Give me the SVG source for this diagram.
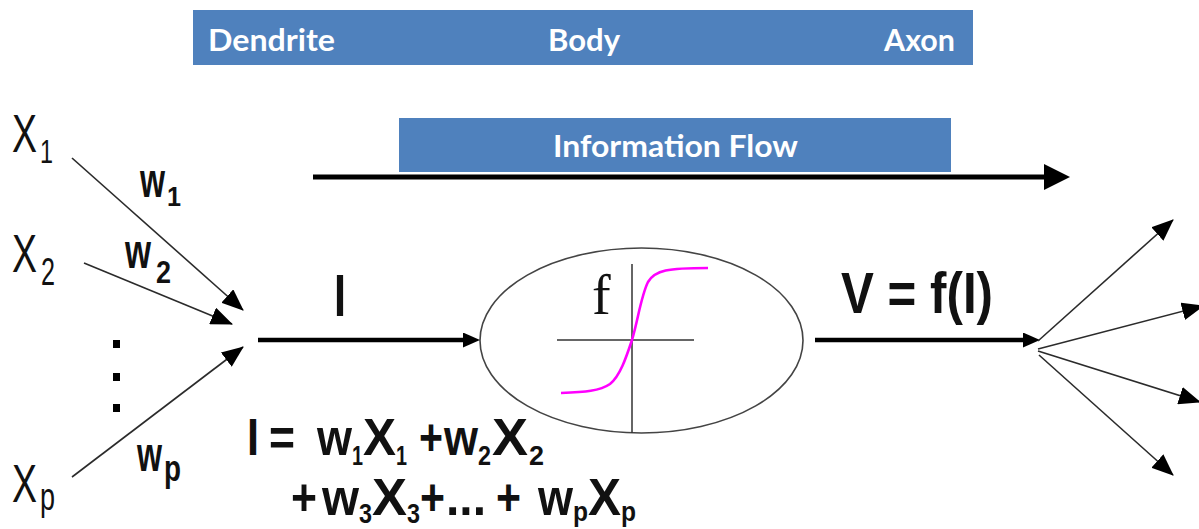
<svg xmlns="http://www.w3.org/2000/svg" width="1199" height="529" viewBox="0 0 1199 529">
  <style>
    .band { fill: #4F81BD; }
    .bt { font-family: Lato, "Open Sans", "Liberation Sans", sans-serif; font-weight: bold; font-size: 30px; fill: #FFFFFF; }
    .xr { font-family: "Liberation Sans", Arial, sans-serif; font-weight: normal; fill: #111111; }
    .bd { font-family: "Liberation Sans", Arial, sans-serif; font-weight: bold; fill: #111111; }
    .fm { font-size: 52px; }
    .fs { font-size: 27px; }
    .thin { stroke: #2b2b2b; stroke-width: 1.6; fill: none; }
    .thick { stroke: #000000; stroke-width: 4.5; fill: none; }
    .flow { stroke: #000000; stroke-width: 5; fill: none; }
  </style>
  <defs>
    <marker id="headThin" viewBox="0 0 22 18" refX="21" refY="9" markerWidth="22" markerHeight="18" markerUnits="userSpaceOnUse" orient="auto">
      <path d="M0,0 L22,9 L0,18 z" fill="#000000"/>
    </marker>
    <marker id="headMed" viewBox="0 0 17 15" refX="4" refY="7.5" markerWidth="17" markerHeight="15" markerUnits="userSpaceOnUse" orient="auto">
      <path d="M0,0 L17,7.5 L0,15 z" fill="#000000"/>
    </marker>
    <marker id="headBig" viewBox="0 0 26 26" refX="6" refY="13" markerWidth="26" markerHeight="26" markerUnits="userSpaceOnUse" orient="auto">
      <path d="M0,0 L26,13 L0,26 z" fill="#000000"/>
    </marker>
  </defs>

  <rect width="1199" height="529" fill="#FFFFFF"/>

  <!-- region band: dendrite / body / axon -->
  <g id="regions">
    <rect class="band" x="193" y="10" width="780" height="55"/>
    <text class="bt" x="208" y="51" textLength="127" lengthAdjust="spacingAndGlyphs">Dendrite</text>
    <text class="bt" x="548" y="51" textLength="72" lengthAdjust="spacingAndGlyphs">Body</text>
    <text class="bt" x="884" y="51" textLength="71" lengthAdjust="spacingAndGlyphs">Axon</text>
  </g>

  <!-- information flow banner -->
  <g id="info-flow">
    <rect class="band" x="399" y="118" width="552" height="54"/>
    <text class="bt" x="553" y="157" textLength="245" lengthAdjust="spacingAndGlyphs">Information Flow</text>
  </g>

  <!-- inputs -->
  <g id="input-x1">
    <text class="xr" x="12" y="152" font-size="53" textLength="25" lengthAdjust="spacingAndGlyphs">X</text>
    <text class="xr" x="40" y="163" font-size="33" textLength="13" lengthAdjust="spacingAndGlyphs">1</text>
  </g>
  <g id="input-x2">
    <text class="xr" x="12" y="272" font-size="53" textLength="25" lengthAdjust="spacingAndGlyphs">X</text>
    <text class="xr" x="41" y="285" font-size="38" textLength="14" lengthAdjust="spacingAndGlyphs">2</text>
  </g>
  <g id="input-xp">
    <text class="xr" x="12" y="502" font-size="53" textLength="25" lengthAdjust="spacingAndGlyphs">X</text>
    <text class="xr" x="40" y="510" font-size="38" textLength="15" lengthAdjust="spacingAndGlyphs">p</text>
  </g>
  <g id="ellipsis-dots" fill="#000000">
    <rect x="113" y="340" width="7" height="8"/>
    <rect x="113" y="373" width="7" height="8"/>
    <rect x="113" y="404" width="7" height="8"/>
  </g>

  <!-- weights -->
  <g id="weight-w1">
    <text class="bd" x="140" y="197" font-size="48" textLength="25" lengthAdjust="spacingAndGlyphs">w</text>
    <text class="bd" x="167" y="206" font-size="28" textLength="14" lengthAdjust="spacingAndGlyphs">1</text>
  </g>
  <g id="weight-w2">
    <text class="bd" x="125" y="268" font-size="48" textLength="26" lengthAdjust="spacingAndGlyphs">w</text>
    <text class="bd" x="156" y="283" font-size="32" textLength="15" lengthAdjust="spacingAndGlyphs">2</text>
  </g>
  <g id="weight-wp">
    <text class="bd" x="137" y="471" font-size="48" textLength="25" lengthAdjust="spacingAndGlyphs">w</text>
    <text class="bd" x="164" y="481" font-size="36" textLength="17" lengthAdjust="spacingAndGlyphs">p</text>
  </g>

  <!-- net input label -->
  <g id="net-input">
    <text class="bd" x="334" y="316" font-size="60" textLength="12" lengthAdjust="spacingAndGlyphs">I</text>
  </g>

  <!-- weighted sum: I = w1X1 + w2X2 + w3X3 + ... + wpXp -->
  <g id="formula" class="bd">
    <text class="fm" x="247" y="455" textLength="12" lengthAdjust="spacingAndGlyphs">I</text>
    <text class="fm" x="269" y="455" textLength="26" lengthAdjust="spacingAndGlyphs">=</text>
    <text class="fm" x="317" y="455" textLength="35" lengthAdjust="spacingAndGlyphs">w</text>
    <text class="fs" x="352" y="465" textLength="11" lengthAdjust="spacingAndGlyphs">1</text>
    <text class="fm" x="363" y="455" textLength="33" lengthAdjust="spacingAndGlyphs">X</text>
    <text class="fs" x="396" y="465" textLength="11" lengthAdjust="spacingAndGlyphs">1</text>
    <text class="fm" x="419" y="455" textLength="24" lengthAdjust="spacingAndGlyphs">+</text>
    <text class="fm" x="444" y="455" textLength="34" lengthAdjust="spacingAndGlyphs">w</text>
    <text class="fs" x="478" y="465" textLength="13" lengthAdjust="spacingAndGlyphs">2</text>
    <text class="fm" x="492" y="455" textLength="36" lengthAdjust="spacingAndGlyphs">X</text>
    <text class="fs" x="529" y="465" textLength="15" lengthAdjust="spacingAndGlyphs">2</text>

    <text class="fm" x="291" y="515" textLength="26" lengthAdjust="spacingAndGlyphs">+</text>
    <text class="fm" x="322" y="515" textLength="37" lengthAdjust="spacingAndGlyphs">w</text>
    <text class="fs" x="359" y="523" textLength="13" lengthAdjust="spacingAndGlyphs">3</text>
    <text class="fm" x="372" y="515" textLength="35" lengthAdjust="spacingAndGlyphs">X</text>
    <text class="fs" x="407" y="523" textLength="13" lengthAdjust="spacingAndGlyphs">3</text>
    <text class="fm" x="420" y="515" textLength="25" lengthAdjust="spacingAndGlyphs">+</text>
    <text class="fm" x="446" y="515" textLength="40" lengthAdjust="spacingAndGlyphs">...</text>
    <text class="fm" x="496" y="515" textLength="25" lengthAdjust="spacingAndGlyphs">+</text>
    <text class="fm" x="538" y="515" textLength="35" lengthAdjust="spacingAndGlyphs">w</text>
    <text class="fs" x="573" y="521" textLength="15" lengthAdjust="spacingAndGlyphs">p</text>
    <text class="fm" x="588" y="515" textLength="33" lengthAdjust="spacingAndGlyphs">X</text>
    <text class="fs" x="621" y="521" textLength="15" lengthAdjust="spacingAndGlyphs">p</text>
  </g>

  <!-- cell body with activation function -->
  <g id="cell-body">
    <ellipse cx="641.5" cy="340.5" rx="161.5" ry="92.5" fill="none" stroke="#444444" stroke-width="1.6"/>
    <line x1="557" y1="340" x2="694" y2="340" stroke="#333333" stroke-width="1.5"/>
    <line x1="632" y1="264" x2="632" y2="433" stroke="#333333" stroke-width="1.5"/>
    <text x="592" y="314" font-family="'Liberation Serif', 'Times New Roman', serif" font-size="56" fill="#111111">f</text>
    <path d="M561,393 C585,392 600,391 610,384 C620,376 626,358 632,340 C638,320 641,296 648,282 C655,270 668,268 708,268" fill="none" stroke="#FF00FF" stroke-width="2.6"/>
  </g>

  <!-- output label -->
  <g id="output">
    <text class="bd" x="841" y="313" font-size="58" textLength="152" lengthAdjust="spacingAndGlyphs" style="white-space:pre">V = f(I)</text>
  </g>

  <!-- connectors -->
  <g id="connectors">
    <line class="flow" x1="313" y1="177" x2="1050" y2="177" marker-end="url(#headBig)"/>
    <line class="thin" x1="72" y1="158" x2="243" y2="310" marker-end="url(#headThin)"/>
    <line class="thin" x1="84" y1="263" x2="232" y2="324" marker-end="url(#headThin)"/>
    <line class="thin" x1="72" y1="477" x2="243" y2="347" marker-end="url(#headThin)"/>
    <line class="thick" x1="258" y1="340" x2="467" y2="340" marker-end="url(#headMed)"/>
    <line class="thick" x1="815" y1="340" x2="1027" y2="340" marker-end="url(#headMed)"/>
    <line class="thin" x1="1038" y1="341" x2="1173" y2="220" marker-end="url(#headThin)"/>
    <line class="thin" x1="1038" y1="349" x2="1203" y2="306" marker-end="url(#headThin)"/>
    <line class="thin" x1="1038" y1="351" x2="1200" y2="402" marker-end="url(#headThin)"/>
    <line class="thin" x1="1039" y1="355" x2="1173" y2="475" marker-end="url(#headThin)"/>
  </g>
</svg>
